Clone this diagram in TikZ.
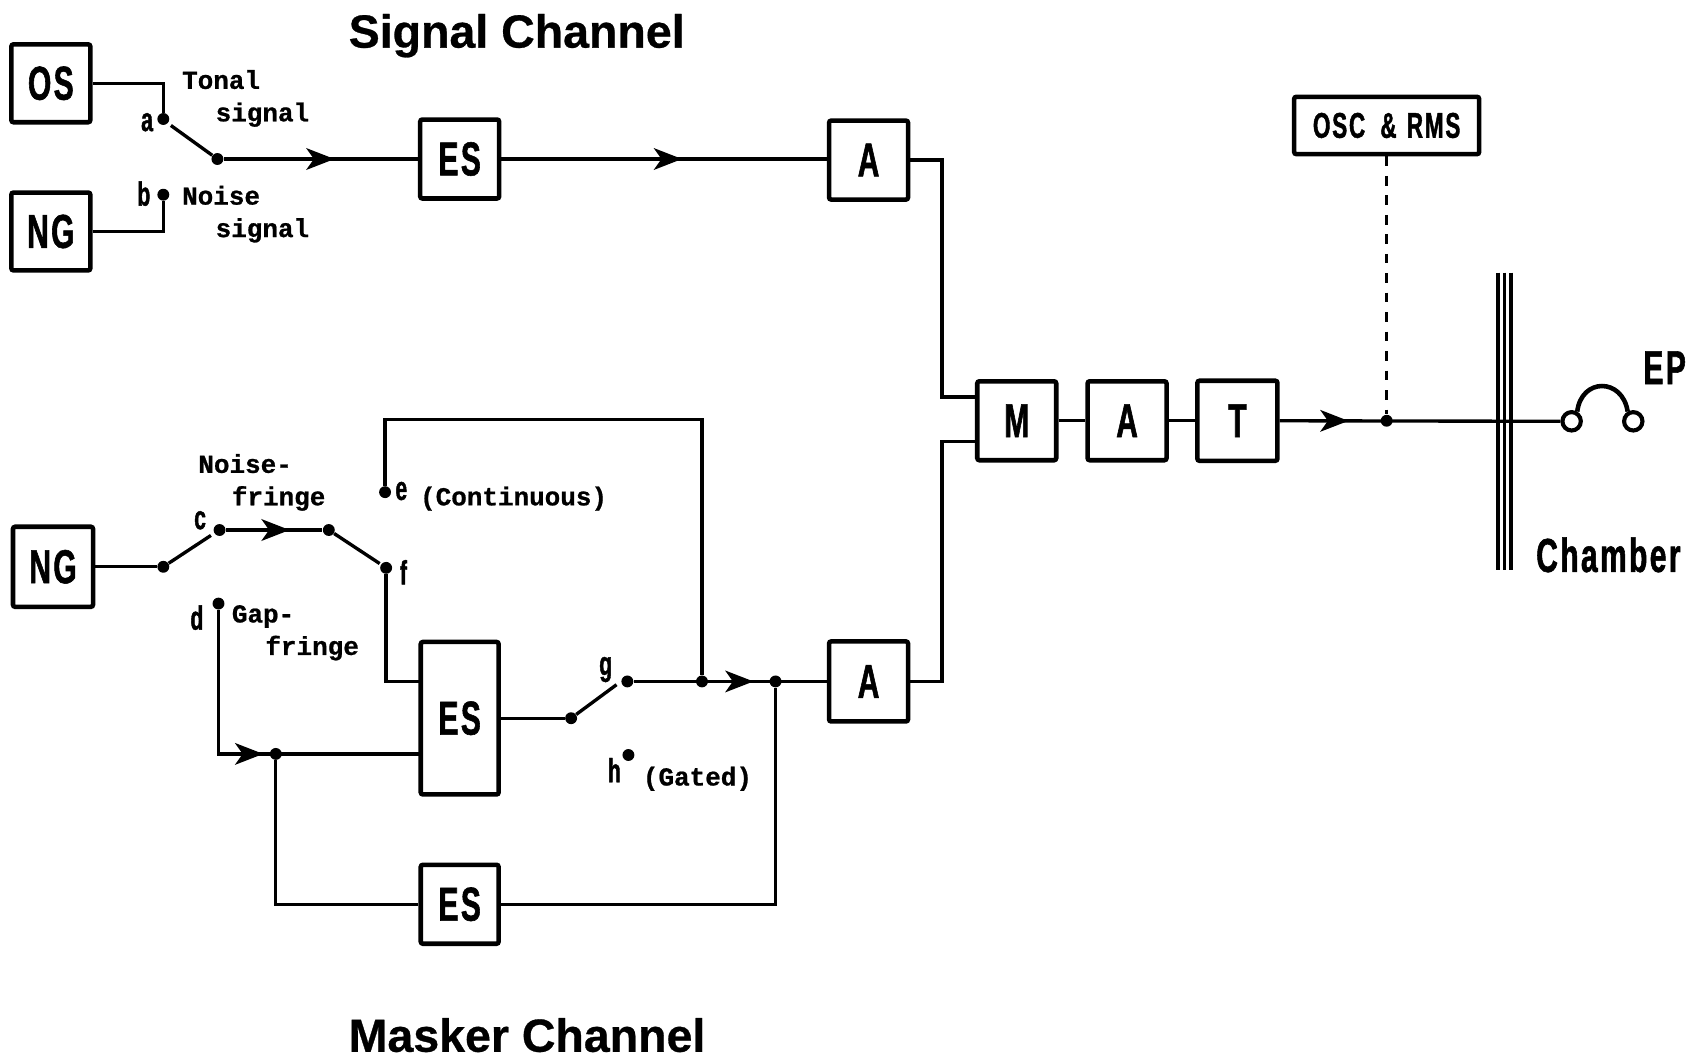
\documentclass[tikz,border=0pt]{standalone}
\usepackage{fontspec}
\usetikzlibrary{arrows.meta,decorations.markings}
\newfontfamily\condfont[FakeStretch=0.63,FakeBold=1.2,LetterSpace=5]{Liberation Sans}
\newfontfamily\labfont[FakeBold=0.8]{Liberation Mono}
\newfontfamily\titlefont[FakeBold=0.6]{Liberation Sans}
\newcommand{\lowered}[1]{\raisebox{-1pt}{#1}}
\tikzset{
  blockbox/.style 2 args={draw=black,line width=2.1pt,rounded corners=1pt,inner sep=0pt,
    minimum width=#1*0.5pt,minimum height=#2*0.5pt,
    font=\condfont\bfseries\fontsize{22}{22}\selectfont},
  wire/.style={line width=1.55pt,draw=black,line join=miter},
  junction/.style={circle,fill=black,draw=none,inner sep=0pt,minimum size=5.5pt},
  midarrow/.style={postaction={decorate},decoration={markings,
    mark=at position #1 with {\arrow{Stealth[length=13pt,width=10pt,inset=3.5pt]}}}},
  slabel/.style={font=\labfont\bfseries\fontsize{12}{15}\selectfont,inner sep=0pt,anchor=west,align=left},
  letterlabel/.style={font=\condfont\bfseries\fontsize{15.5}{15.5}\selectfont,inner sep=0pt},
  bigcond/.style={font=\condfont\bfseries\fontsize{22}{22}\selectfont,inner sep=0pt},
  titlelabel/.style={font=\titlefont\bfseries\fontsize{21.5}{21.5}\selectfont,inner sep=0pt,anchor=west},
  earcup/.style={circle,draw=black,fill=white,line width=1.9pt,inner sep=0pt,minimum size=8.5pt},
}
\begin{document}
\begin{tikzpicture}[x=0.5pt,y=-0.5pt]
\useasboundingbox (0,0) rectangle (1568,981);
% titles
\node[titlelabel] (t1) at (322,33) {Signal Channel};
\node[titlelabel] (t2) at (322,957) {Masker Channel};
% boxes
\node[blockbox={73}{72}] (os) at (47,77) {OS};
\node[blockbox={73}{72}] (ng1) at (47,214) {\lowered{NG}};
\node[blockbox={73}{73}] (es1) at (425,147) {ES};
\node[blockbox={73}{73}] (a1) at (803,148) {\lowered{A}};
\node[blockbox={171}{53},font=\condfont\bfseries\fontsize{16.5}{16.5}\selectfont] (osc) at (1282,116) {OSC\hspace{7pt}\&\hspace{1pt} RMS};
\node[blockbox={73}{73}] (m) at (940,389) {\lowered{M}};
\node[blockbox={73}{73}] (a3) at (1042,389) {\lowered{A}};
\node[blockbox={74}{74}] (t) at (1144,389) {\lowered{T}};
\node[blockbox={74}{74}] (ng3) at (49,524) {\lowered{NG}};
\node[blockbox={72}{141}] (es2) at (425,664) {\lowered{ES}};
\node[blockbox={73}{74}] (a2) at (803,630) {A};
\node[blockbox={72}{73}] (es3) at (425,836) {\lowered{ES}};
% junctions and contacts
\node[junction] (a) at (151,110) {};
\node[junction] (b) at (151,180) {};
\node[junction] (sw1) at (201,147) {};
\coordinate (a0) at (158,116);
\node[junction] (ngd) at (151,524) {};
\coordinate (c0) at (195,495);
\node[junction] (c) at (203,490) {};
\node[junction] (cf) at (304,490) {};
\coordinate (f0) at (351,521);
\node[junction] (f) at (357,525) {};
\node[junction] (e) at (356,455) {};
\node[junction] (d) at (202,558) {};
\node[junction] (dj) at (255,697) {};
\node[junction] (gin) at (528,664) {};
\coordinate (g0) at (570,633);
\node[junction] (g) at (580,630) {};
\node[junction] (h) at (581,698) {};
\node[junction] (ej) at (649,630) {};
\node[junction] (oj) at (717,630) {};
\node[junction] (mon) at (1282,389) {};
\coordinate (j1) at (871,367);
\coordinate (mi1) at (903,367);
\coordinate (j2) at (871,408);
\coordinate (mi2) at (903,408);
\coordinate (etop) at (356,388);
\coordinate (ejtop) at (649,388);
\coordinate (dbend) at (202,697);
\coordinate (fbend) at (357,630);
\coordinate (es2in) at (389,630);
\coordinate (es2ld) at (389,697);
% signal channel wires
\draw[wire] (os.east) -| (a);
\draw[wire] (ng1.east) -| (b);
\draw[wire] (a0) -- (sw1);
\draw[wire,midarrow=0.57] (sw1) -- (sw1 -| es1.west);
\draw[wire,midarrow=0.555] (es1.east) -- (es1.east -| a1.west);
\draw[wire] (a1.east) -| (j1) -- (mi1);
\draw[wire] (a2.east) -| (j2) -- (mi2);
% masker channel wires
\draw[wire] (ng3.east) -- (ngd);
\draw[wire] (ngd) -- (c0);
\draw[wire,midarrow=0.66] (c) -- (cf);
\draw[wire] (cf) -- (f0);
\draw[wire] (f) -- (fbend) -- (es2in);
\draw[wire] (e) -- (etop) -- (ejtop) -- (ej);
\draw[wire,midarrow=0.545] (d) -- (dbend) -- (es2ld);
\draw[wire] (dj) |- (es3.west);
\draw[wire] (es3.east) -| (oj);
\draw[wire] (es2.east) -- (gin);
\draw[wire] (gin) -- (g0);
\draw[wire,midarrow=0.62] (g) -- (a2.west);
\draw[wire] (m.east) -- (a3.west);
\draw[wire] (a3.east) -- (t.west);
% output
\node[earcup] (ep1) at (1453,389.5) {};
\node[earcup] (ep2) at (1510,389.5) {};
\draw[wire,midarrow=0.245] (t.east) -- (ep1.west);
\draw[wire,line width=1.5pt,dash pattern=on 4.5pt off 4.5pt] (osc.south -| mon) -- (mon);
\draw[line width=2.1pt] (ep1.60) .. controls (1462,349) and (1500,349) .. (ep2.120);
% chamber wall
\coordinate (w1t) at (1385,252); \coordinate (w1b) at (1385,527);
\coordinate (w2t) at (1391,252); \coordinate (w2b) at (1391,527);
\coordinate (w3t) at (1397,252); \coordinate (w3b) at (1397,527);
\draw[line width=1.5pt] (w1t) -- (w1b);
\draw[line width=1.5pt] (w2t) -- (w2b);
\draw[line width=1.5pt] (w3t) -- (w3b);
% labels
\node[slabel] (ltonal) at (168,91) {Tonal\\\hspace*{15.5pt}signal};
\node[slabel] (lnoise) at (168,198) {Noise\\\hspace*{15.5pt}signal};
\node[slabel] (lnf) at (183,446) {Noise-\\\hspace*{15.5pt}fringe};
\node[slabel] (lgf) at (214,585) {Gap-\\\hspace*{15.5pt}fringe};
\node[slabel] (lcont) at (388,461) {(Continuous)};
\node[slabel] (lgate) at (594,720) {(Gated)};
\node[letterlabel] (la) at (136,113) {a};
\node[letterlabel] (lb) at (133,179) {b};
\node[letterlabel] (lc) at (185,481) {c};
\node[letterlabel] (ld) at (182,571) {d};
\node[letterlabel] (le) at (371,454) {e};
\node[letterlabel] (lf) at (373,529) {f};
\node[letterlabel] (lg) at (560,619) {g};
\node[letterlabel] (lh) at (568,712) {h};
\node[bigcond] (lep) at (1539,340) {EP};
\node[bigcond] (lch) at (1487,513) {Chamber};
\end{tikzpicture}
\end{document}
